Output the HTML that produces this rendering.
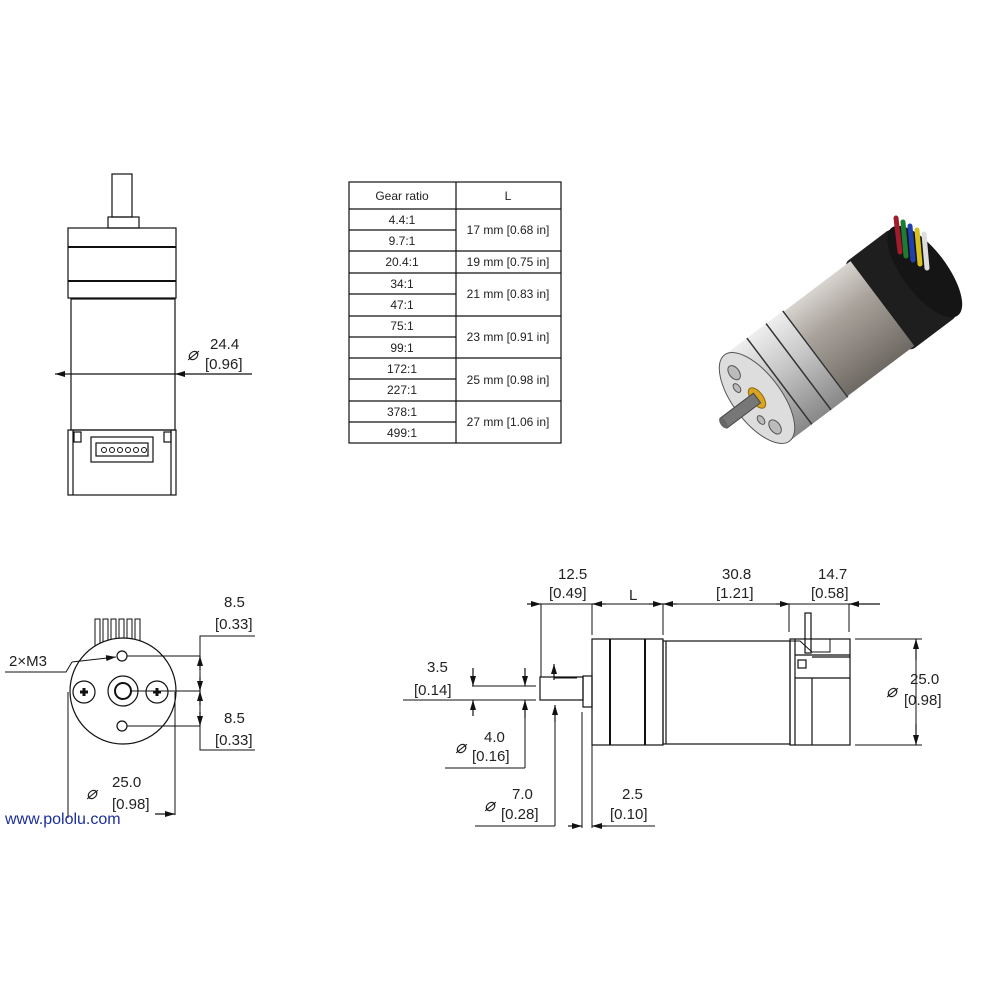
<!DOCTYPE html>
<html><head><meta charset="utf-8"><style>
html,body{margin:0;padding:0;background:#fff}
svg{display:block}
text{font-family:"Liberation Sans",sans-serif;fill:#222}
</style></head><body>
<svg width="1000" height="1000" viewBox="0 0 1000 1000" xmlns="http://www.w3.org/2000/svg">
<defs>
<marker id="a" viewBox="0 0 10 6" refX="10" refY="3" markerWidth="10" markerHeight="6" orient="auto-start-reverse" markerUnits="userSpaceOnUse"><path d="M0,0 L10,3 L0,6z" fill="#111"/></marker>
<linearGradient id="can" x1="0" y1="0" x2="0" y2="1"><stop offset="0" stop-color="#d8d4cf"/><stop offset="0.35" stop-color="#a9a39c"/><stop offset="1" stop-color="#6e6962"/></linearGradient>
<linearGradient id="gear" x1="0" y1="0" x2="0" y2="1"><stop offset="0" stop-color="#eee"/><stop offset="0.4" stop-color="#c9c9c9"/><stop offset="1" stop-color="#888"/></linearGradient>
</defs>
<g stroke="#111" stroke-width="1.2" fill="none">
<rect x="112" y="174" width="20" height="43"/>
<rect x="108" y="217" width="31" height="11"/>
<rect x="68" y="228" width="108" height="70"/>
<line x1="68" y1="247" x2="176" y2="247" stroke-width="2"/>
<line x1="68" y1="281" x2="176" y2="281" stroke-width="2"/>
<rect x="71" y="299" width="104" height="131"/>
<rect x="68" y="430" width="108" height="65"/>
<line x1="73" y1="430" x2="73" y2="495"/><line x1="171" y1="430" x2="171" y2="495"/>
<rect x="74" y="432" width="7" height="10"/><rect x="164" y="432" width="7" height="10"/>
<rect x="91" y="437" width="62" height="25"/>
<rect x="96" y="443" width="52" height="13"/>
<g stroke-width="1"><circle cx="104" cy="450" r="2.5"/><circle cx="112" cy="450" r="2.5"/><circle cx="120" cy="450" r="2.5"/><circle cx="128" cy="450" r="2.5"/><circle cx="136" cy="450" r="2.5"/><circle cx="144" cy="450" r="2.5"/></g>
<line x1="55" y1="374" x2="71" y2="374" marker-start="url(#a)"/>
<line x1="71" y1="374" x2="175" y2="374"/>
<line x1="175" y1="374" x2="252" y2="374" marker-start="url(#a)"/>

<rect x="349" y="182" width="212" height="261"/>
<line x1="456" y1="182" x2="456" y2="443"/>
<line x1="349" y1="209" x2="561" y2="209"/>
<line x1="349" y1="230" x2="456" y2="230"/>
<line x1="349" y1="251" x2="561" y2="251"/>
<line x1="349" y1="273" x2="561" y2="273"/>
<line x1="349" y1="294" x2="456" y2="294"/>
<line x1="349" y1="316" x2="561" y2="316"/>
<line x1="349" y1="337" x2="456" y2="337"/>
<line x1="349" y1="358" x2="561" y2="358"/>
<line x1="349" y1="379" x2="456" y2="379"/>
<line x1="349" y1="401" x2="561" y2="401"/>
<line x1="349" y1="422" x2="456" y2="422"/>

<g stroke-width="1">
<rect x="95" y="619" width="5" height="28"/><rect x="103" y="619" width="5" height="28"/><rect x="111" y="619" width="5" height="28"/><rect x="119" y="619" width="5" height="28"/><rect x="127" y="619" width="5" height="28"/><rect x="135" y="619" width="5" height="28"/>
</g>
<circle cx="123" cy="691" r="53" fill="#fff"/>
<circle cx="122" cy="656" r="5"/><circle cx="122" cy="726" r="5"/>
<circle cx="123" cy="691" r="15"/><circle cx="123" cy="691" r="8" stroke-width="2"/>
<circle cx="84" cy="692" r="11"/><circle cx="157" cy="692" r="11"/>
<path d="M80,692h8M84,688v8M153,692h8M157,688v8" stroke-width="3"/>
<path d="M5,672 H66 L72,662" stroke-width="1"/>
<line x1="72" y1="662" x2="116" y2="657" stroke-width="1" marker-end="url(#a)"/>
<line x1="127" y1="656" x2="200" y2="656" stroke-width="1"/>
<line x1="131" y1="691" x2="200" y2="691" stroke-width="1"/>
<line x1="127" y1="726" x2="200" y2="726" stroke-width="1"/>
<path d="M255,636 H200 V750 H255" stroke-width="1"/>
<line x1="200" y1="670" x2="200" y2="656" marker-end="url(#a)"/>
<line x1="200" y1="677" x2="200" y2="691" marker-end="url(#a)"/>
<line x1="200" y1="705" x2="200" y2="691" marker-end="url(#a)"/>
<line x1="200" y1="712" x2="200" y2="726" marker-end="url(#a)"/>
<line x1="68" y1="692" x2="68" y2="818" stroke-width="1"/>
<line x1="175" y1="692" x2="175" y2="815" stroke-width="1"/>
<line x1="155" y1="814" x2="175" y2="814" marker-end="url(#a)"/>

<rect x="583" y="676" width="9" height="31"/>
<rect x="540" y="677" width="43" height="23"/>
<rect x="592" y="639" width="71" height="106"/>
<line x1="610" y1="639" x2="610" y2="745" stroke-width="2"/>
<line x1="645" y1="639" x2="645" y2="745" stroke-width="2"/>
<rect x="663" y="641" width="127" height="103"/>
<line x1="666" y1="641" x2="666" y2="744"/>
<rect x="790" y="639" width="60" height="106"/>
<line x1="795" y1="639" x2="795" y2="745"/>
<line x1="795" y1="655" x2="850" y2="655"/><line x1="812" y1="657" x2="850" y2="657"/>
<line x1="795" y1="678" x2="850" y2="678"/><line x1="812" y1="678" x2="812" y2="745"/>
<rect x="798" y="660" width="8" height="8"/>
<rect x="805" y="613" width="6" height="40"/>
<path d="M790,641 H800 L812,652 H830 V639" stroke-width="1"/>
<line x1="527" y1="604" x2="541" y2="604" marker-end="url(#a)"/>
<line x1="541" y1="604" x2="592" y2="604" stroke-width="1"/>
<line x1="606" y1="604" x2="592" y2="604" marker-end="url(#a)"/>
<line x1="606" y1="604" x2="649" y2="604" stroke-width="1"/>
<line x1="649" y1="604" x2="663" y2="604" marker-end="url(#a)"/>
<line x1="677" y1="604" x2="663" y2="604" marker-end="url(#a)"/>
<line x1="677" y1="604" x2="776" y2="604" stroke-width="1"/>
<line x1="776" y1="604" x2="790" y2="604" marker-end="url(#a)"/>
<line x1="790" y1="604" x2="849" y2="604" stroke-width="1"/>
<line x1="880" y1="604" x2="849" y2="604" marker-end="url(#a)"/>
<g stroke-width="1">
<line x1="541" y1="604" x2="541" y2="677"/>
<line x1="592" y1="604" x2="592" y2="635"/>
<line x1="663" y1="604" x2="663" y2="635"/>
<line x1="789" y1="604" x2="789" y2="632"/>
<line x1="849" y1="604" x2="849" y2="632"/>
<line x1="855" y1="639" x2="922" y2="639"/>
<line x1="855" y1="745" x2="922" y2="745"/>
<line x1="916" y1="639" x2="916" y2="745"/>
<line x1="472" y1="686" x2="536" y2="686"/>
<line x1="403" y1="700" x2="536" y2="700"/>
<line x1="525" y1="700" x2="525" y2="768"/>
<line x1="445" y1="768" x2="525" y2="768"/>
<line x1="555" y1="705" x2="555" y2="826"/>
<line x1="475" y1="826" x2="555" y2="826"/>
<line x1="582" y1="712" x2="582" y2="828"/>
<line x1="592" y1="712" x2="592" y2="828"/>
<line x1="592" y1="826" x2="655" y2="826"/>
<line x1="554" y1="678" x2="577" y2="678"/>
</g>
<line x1="916" y1="660" x2="916" y2="639" marker-end="url(#a)"/>
<line x1="916" y1="724" x2="916" y2="745" marker-end="url(#a)"/>
<line x1="473" y1="668" x2="473" y2="686" marker-end="url(#a)"/>
<line x1="525" y1="668" x2="525" y2="686" marker-end="url(#a)"/>
<line x1="473" y1="716" x2="473" y2="700" marker-end="url(#a)"/>
<line x1="525" y1="718" x2="525" y2="700" marker-end="url(#a)"/>
<line x1="555" y1="722" x2="555" y2="705" marker-end="url(#a)"/>
<line x1="554" y1="680" x2="554" y2="664" marker-end="url(#a)"/>
<line x1="568" y1="826" x2="582" y2="826" marker-end="url(#a)"/>
<line x1="606" y1="826" x2="592" y2="826" marker-end="url(#a)"/>
</g>

<!-- 3D motor -->
<g transform="translate(757,398) rotate(-37)">
<rect x="150" y="-55" width="60" height="110" rx="6" fill="#1e1e1e"/>
<ellipse cx="210" cy="0" rx="22" ry="55" fill="#151515"/>
<rect x="72" y="-53" width="85" height="106" fill="url(#can)"/>
<rect x="0" y="-54" width="74" height="108" fill="url(#gear)"/>
<path d="M28,-54 v108 M52,-54 v108 M73,-54 v108" stroke="#333" stroke-width="1.5"/>
<ellipse cx="0" cy="0" rx="24" ry="54" fill="#ddd" stroke="#555"/>
<ellipse cx="0" cy="0" rx="6" ry="12" fill="#d9a520" stroke="#8a6a10"/>
<rect x="-42" y="-6" width="42" height="12" fill="#777" stroke="#444"/>
<ellipse cx="-42" cy="0" rx="3" ry="6" fill="#666"/>
<ellipse cx="-3" cy="-34" rx="5" ry="8" fill="#bbb" stroke="#555"/>
<ellipse cx="-3" cy="34" rx="5" ry="8" fill="#bbb" stroke="#555"/>
<ellipse cx="-10" cy="-20" rx="3" ry="5" fill="#bbb" stroke="#555"/>
<ellipse cx="-10" cy="20" rx="3" ry="5" fill="#bbb" stroke="#555"/>
</g>
<g stroke-width="5" stroke-linecap="round">
<line x1="896" y1="218" x2="900" y2="252" stroke="#a01c2c"/>
<line x1="903" y1="222" x2="906" y2="256" stroke="#1f7a32"/>
<line x1="910" y1="226" x2="913" y2="260" stroke="#2040b0"/>
<line x1="917" y1="230" x2="920" y2="264" stroke="#d8c020"/>
<line x1="924" y1="234" x2="927" y2="268" stroke="#ddd"/>
</g>

<g font-size="15">
<text x="210" y="349">24.4</text>
<text x="205" y="369">[0.96]</text>
<text x="187" y="360" font-size="18" font-style="italic">⌀</text>
<text x="224" y="607">8.5</text><text x="215" y="629">[0.33]</text>
<text x="224" y="723">8.5</text><text x="215" y="745">[0.33]</text>
<text x="9" y="666">2×M3</text>
<text x="112" y="787">25.0</text><text x="112" y="809">[0.98]</text>
<text x="86" y="799" font-size="18" font-style="italic">⌀</text>
<text x="558" y="579">12.5</text><text x="549" y="598">[0.49]</text>
<text x="629" y="600">L</text>
<text x="722" y="579">30.8</text><text x="716" y="598">[1.21]</text>
<text x="818" y="579">14.7</text><text x="811" y="598">[0.58]</text>
<text x="910" y="684">25.0</text><text x="904" y="705">[0.98]</text>
<text x="886" y="697" font-size="18" font-style="italic">⌀</text>
<text x="427" y="672">3.5</text><text x="414" y="695">[0.14]</text>
<text x="484" y="742">4.0</text><text x="472" y="761">[0.16]</text>
<text x="455" y="753" font-size="18" font-style="italic">⌀</text>
<text x="512" y="799">7.0</text><text x="501" y="819">[0.28]</text>
<text x="484" y="811" font-size="18" font-style="italic">⌀</text>
<text x="622" y="799">2.5</text><text x="610" y="819">[0.10]</text>
</g>
<text x="5" y="824" font-size="16" style="fill:#1a2f9a">www.pololu.com</text>
<g font-size="12" text-anchor="middle">
<text x="402" y="200">Gear ratio</text><text x="508" y="200">L</text>
<text x="402" y="224">4.4:1</text><text x="402" y="245">9.7:1</text>
<text x="402" y="266">20.4:1</text><text x="402" y="288">34:1</text>
<text x="402" y="309">47:1</text><text x="402" y="330">75:1</text>
<text x="402" y="352">99:1</text><text x="402" y="373">172:1</text>
<text x="402" y="394">227:1</text><text x="402" y="416">378:1</text>
<text x="402" y="437">499:1</text>
<text x="508" y="234">17 mm [0.68 in]</text>
<text x="508" y="266">19 mm [0.75 in]</text>
<text x="508" y="298">21 mm [0.83 in]</text>
<text x="508" y="341">23 mm [0.91 in]</text>
<text x="508" y="384">25 mm [0.98 in]</text>
<text x="508" y="426">27 mm [1.06 in]</text>
</g>
</svg>
</body></html>
